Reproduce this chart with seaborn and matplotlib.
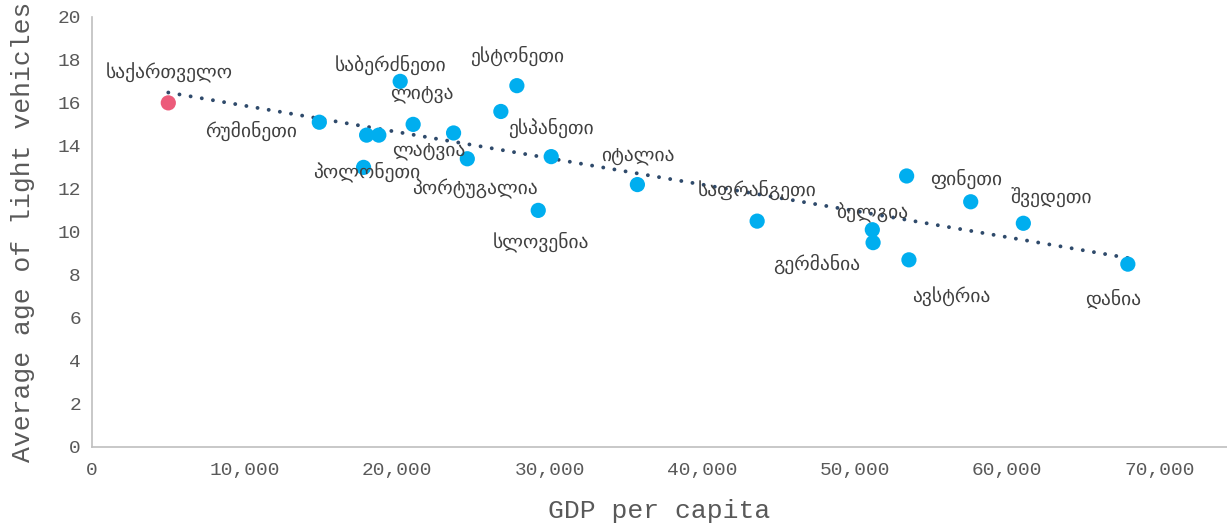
import matplotlib
matplotlib.use("Agg")
import matplotlib.pyplot as plt
import seaborn as sns
import pandas as pd

# data (GDP per capita vs average age of light vehicles)
countries = ["საქართველო", "რუმინეთი", "ხორვატია", "უნგრეთი", "პოლონეთი", "საბერძნეთი",
             "ლატვია", "ლიტვა", "პორტუგალია", "ჩეხეთი", "ესტონეთი", "ესპანეთი",
             "სლოვენია", "იტალია", "საფრანგეთი", "ბელგია", "გერმანია", "ფინეთი",
             "ავსტრია", "ნიდერლანდები", "შვედეთი", "დანია"]
gdp = [5000, 14900, 18000, 18800, 17800, 20200, 21050, 23700, 24600, 26800, 27850, 30100,
       29250, 35750, 43600, 51150, 51200, 53400, 53550, 57600, 61050, 67900]
age = [16.0, 15.1, 14.5, 14.5, 13.0, 17.0, 15.0, 14.6, 13.4, 15.6, 16.8, 13.5,
       11.0, 12.2, 10.5, 10.1, 9.5, 12.6, 8.7, 11.4, 10.4, 8.5]
# which points carry a label on the chart
shown = [True, True, False, False, True, True, True, True, True, False, True, True,
         True, True, True, True, True, True, True, False, True, True]

# label offsets in pixels (dx, dy up)
offsets = [(1, 30), (-68, -9), (0, 0), (0, 0), (3, -4), (-10, 16),
           (16, -26), (-32, 39), (8, -30), (0, 0), (0, 30), (0, 29),
           (3, -31), (0, 29), (0, 31), (0, 17), (-56, -21), (60, -3),
           (42, -36), (0, 0), (28, 26), (-15, -35)]

df = pd.DataFrame({"country": countries, "gdp": gdp, "age": age})
df["group"] = ["geo" if c == "საქართველო" else "eu" for c in countries]

sns.set_style("white")
plt.rcParams["font.family"] = ["Liberation Mono", "DejaVu Sans"]

fig = plt.figure(figsize=(12.27, 5.27), dpi=100)
ax = fig.add_axes([0.075, 0.152, 0.925, 0.816])

sns.regplot(data=df, x="gdp", y="age", scatter=False, ci=None, truncate=True, ax=ax,
            line_kws={"color": "#2F4A6B", "linestyle": (0, (0.01, 2.9)), "linewidth": 2.8,
                      "dash_capstyle": "round"})
sns.scatterplot(data=df, x="gdp", y="age", hue="group",
                palette={"eu": "#00AEEF", "geo": "#EC5B7A"},
                s=120, linewidth=0, legend=False, ax=ax, zorder=3)

for c, x, y, sh, (dx, dy) in zip(countries, gdp, age, shown, offsets):
    if not sh:
        continue
    ax.annotate(c, (x, y), xytext=(dx, dy), textcoords="offset pixels",
                ha="center", va="center", fontsize=14, color="#404040",
                family=["DejaVu Sans"], zorder=4)

ax.set_xlim(0, 74400)
ax.set_ylim(0, 20)
ax.set_xticks(range(0, 70001, 10000))
ax.set_xticklabels([f"{v:,}" for v in range(0, 70001, 10000)])
ax.set_yticks(range(0, 21, 2))
ax.tick_params(axis="both", labelsize=14, labelcolor="#595959", length=0)
ax.tick_params(axis="y", pad=8)
ax.tick_params(axis="x", pad=11)

ax.set_xlabel("GDP per capita", fontsize=19, color="#595959", labelpad=14)
ax.set_ylabel("Average age of light vehicles", fontsize=19, color="#595959", labelpad=16)

for side in ["top", "right"]:
    ax.spines[side].set_visible(False)
for side in ["left", "bottom"]:
    ax.spines[side].set_color("#BFBFBF")
    ax.spines[side].set_linewidth(1.2)

fig.savefig("out.png", dpi=100)
